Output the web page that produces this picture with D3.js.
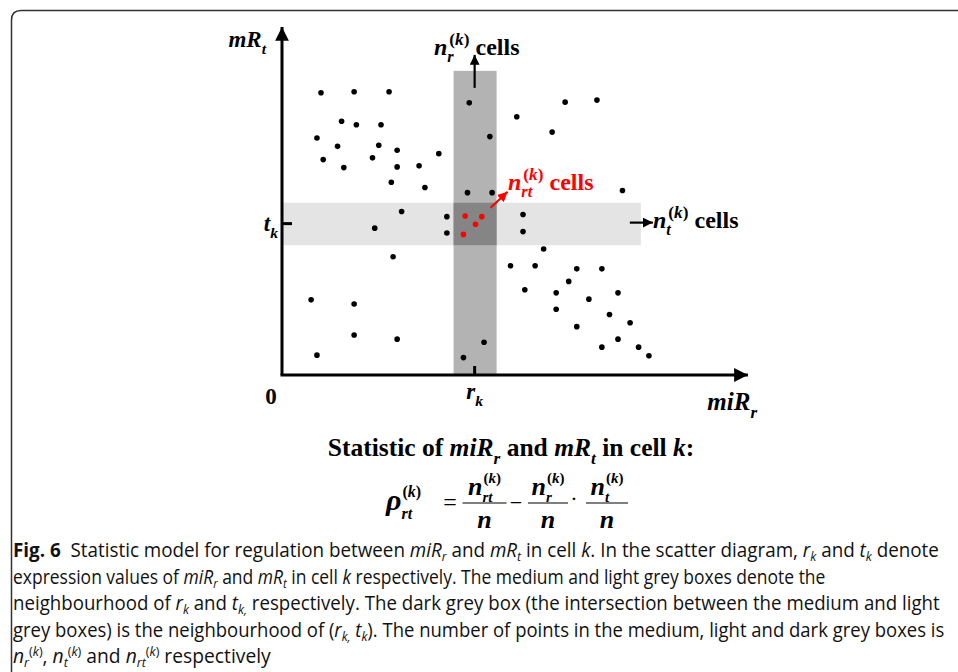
<!DOCTYPE html>
<html>
<head>
<meta charset="utf-8">
<script src="https://cdn.jsdelivr.net/npm/d3@7"></script>
<style>
  body { margin: 0; background: #fff; }
  svg { display: block; }
  text { white-space: pre; }
</style>
</head>
<body>
<div id="chart"></div>
<script>
// scatter values (expression units, 0..10 on both axes)
const miR = [0.87, 1.61, 2.39, 4.18, 5.24, 6.32, 7.03, 1.33, 1.66, 2.21, 6.03, 4.64, 0.78, 1.24, 2.16,
  2.57, 3.50, 0.92, 2.02, 1.38, 2.57, 3.06, 2.44, 3.19, 4.14, 4.69, 7.60, 2.67, 3.68, 5.38, 2.07, 3.68,
  5.38, 5.84, 2.48, 5.10, 5.65, 6.58, 7.14, 6.40, 5.42, 6.12, 7.50, 6.85, 0.65, 1.61, 6.12, 7.31, 7.77,
  6.58, 1.61, 2.57, 4.51, 7.50, 7.14, 7.96, 8.19, 0.78, 4.05];
const mR = [8.11, 8.14, 8.14, 7.82, 7.42, 7.84, 7.90, 7.29, 7.19, 7.19, 6.98, 6.85, 6.81, 6.57, 6.60,
  6.46, 6.36, 6.19, 6.24, 5.96, 5.98, 6.01, 5.54, 5.39, 5.24, 5.24, 5.30, 4.70, 4.55, 4.61, 4.22, 4.08,
  4.12, 3.62, 3.40, 3.14, 3.14, 3.05, 3.05, 2.69, 2.45, 2.36, 2.36, 2.18, 2.16, 2.04, 1.89, 1.74, 1.50,
  1.39, 1.15, 1.03, 0.94, 1.03, 0.80, 0.80, 0.55, 0.57, 0.50];
// points in the neighbourhood of (r_k, t_k)
const miRCell = [4.09, 4.46, 4.32, 4.05];
const mRCell = [4.57, 4.55, 4.33, 4.04];

const rk = 4.30, tk = 4.35;        // cell k
const rBand = [3.83, 4.79];        // neighbourhood of r_k
const tBand = [3.73, 4.95];        // neighbourhood of t_k
const rBoxTop = 8.74, tBoxRight = 8.01;
const axisMax = { x: 10.4, y: 10 };

const serif = "'Liberation Serif', 'Times New Roman', serif";
const sans = "'Open Sans', 'Noto Sans', sans-serif";

const caption = [
  [["Fig. 6", "b"], ["  Statistic model for regulation between ", ""], ["miR", "i"], ["r", "si"], [" and ", ""],
   ["mR", "i"], ["t", "si"], [" in cell ", ""], ["k", "i"], [". In the scatter diagram, ", ""], ["r", "i"], ["k", "si"],
   [" and ", ""], ["t", "i"], ["k", "si"], [" denote", ""]],
  [["expression values of ", ""], ["miR", "i"], ["r", "si"], [" and ", ""], ["mR", "i"], ["t", "si"], [" in cell ", ""],
   ["k", "i"], [" respectively. The medium and light grey boxes denote the", ""]],
  [["neighbourhood of ", ""], ["r", "i"], ["k", "si"], [" and ", ""], ["t", "i"], ["k,", "si"],
   [" respectively. The dark grey box (the intersection between the medium and light", ""]],
  [["grey boxes) is the neighbourhood of (", ""], ["r", "i"], ["k,", "si"], [" ", ""], ["t", "i"], ["k", "si"],
   ["). The number of points in the medium, light and dark grey boxes is", ""]],
  [["n", "i"], ["r", "si"], ["(", "pu"], ["k", "pi"], [")", "pu"], [", ", ""], ["n", "i"], ["t", "si"], ["(", "pu"], ["k", "pi"],
   [")", "pu"], [" and ", ""], ["n", "i"], ["rt", "si"], ["(", "pu"], ["k", "pi"], [")", "pu"], [" respectively", ""]]
];
const captionEnds = [940, 826, 940, 945, 272];

const W = 958, H = 672;
const svg = d3.select("#chart").append("svg").attr("width", W).attr("height", H);

// figure frame
svg.append("path")
  .attr("d", "M11.5," + H + " V20 Q11.5,10.5 21,10.5 H" + W)
  .attr("fill", "none").attr("stroke", "#333").attr("stroke-width", 1.5);

const x = d3.scaleLinear().domain([0, 10]).range([282, 730]);
const y = d3.scaleLinear().domain([0, 10]).range([375, 27]);

const defs = svg.append("defs");
function marker(id, w, h, fill) {
  defs.append("marker").attr("id", id).attr("viewBox", "0 0 10 10")
    .attr("refX", 10).attr("refY", 5).attr("markerWidth", w).attr("markerHeight", h)
    .attr("markerUnits", "strokeWidth").attr("orient", "auto")
    .append("path").attr("d", "M0,0 L10,5 L0,10 Z").attr("fill", fill);
}
marker("head", 5, 4.6, "#000");
marker("small", 4.5, 4.5, "#000");
marker("smallred", 4.5, 4.5, "#f00");

// neighbourhood boxes
svg.append("rect").attr("x", x(0)).attr("y", y(tBand[1]))
  .attr("width", x(tBoxRight) - x(0)).attr("height", y(tBand[0]) - y(tBand[1])).attr("fill", "#e4e4e4");
svg.append("rect").attr("x", x(rBand[0])).attr("y", y(rBoxTop))
  .attr("width", x(rBand[1]) - x(rBand[0])).attr("height", y(0) - y(rBoxTop)).attr("fill", "#b3b3b3");
svg.append("rect").attr("x", x(rBand[0])).attr("y", y(tBand[1]))
  .attr("width", x(rBand[1]) - x(rBand[0])).attr("height", y(tBand[0]) - y(tBand[1])).attr("fill", "#858585");

// axes
svg.append("line").attr("x1", x(0)).attr("y1", y(0)).attr("x2", x(0)).attr("y2", y(axisMax.y))
  .attr("stroke", "#000").attr("stroke-width", 3).attr("marker-end", "url(#head)");
svg.append("line").attr("x1", x(0) - 1.5).attr("y1", y(0)).attr("x2", x(axisMax.x)).attr("y2", y(0))
  .attr("stroke", "#000").attr("stroke-width", 3).attr("marker-end", "url(#head)");
svg.append("line").attr("x1", x(0)).attr("x2", x(0) + 10).attr("y1", y(tk)).attr("y2", y(tk))
  .attr("stroke", "#000").attr("stroke-width", 3);
svg.append("line").attr("x1", x(rk)).attr("x2", x(rk)).attr("y1", y(0)).attr("y2", y(0) - 9)
  .attr("stroke", "#000").attr("stroke-width", 3);

// points
svg.append("g").selectAll("circle").data(miR.map((v, i) => [v, mR[i]])).join("circle")
  .attr("cx", d => x(d[0])).attr("cy", d => y(d[1])).attr("r", 2.8).attr("fill", "#000");
svg.append("g").selectAll("circle").data(miRCell.map((v, i) => [v, mRCell[i]])).join("circle")
  .attr("cx", d => x(d[0])).attr("cy", d => y(d[1])).attr("r", 2.8).attr("fill", "#f00");

// annotation arrows
svg.append("line").attr("x1", x(rk)).attr("x2", x(rk)).attr("y1", y(rBoxTop) + 17).attr("y2", y(rBoxTop) - 16)
  .attr("stroke", "#000").attr("stroke-width", 2.2).attr("marker-end", "url(#small)");
svg.append("line").attr("x1", x(tBoxRight) - 11).attr("x2", x(tBoxRight) + 12).attr("y1", y(tk) - 1).attr("y2", y(tk) - 1)
  .attr("stroke", "#000").attr("stroke-width", 2.2).attr("marker-end", "url(#small)");
svg.append("line").attr("x1", x(rBand[1]) - 6).attr("y1", y(tBand[1]) + 5)
  .attr("x2", x(rBand[1]) + 11).attr("y2", y(tBand[1]) - 11)
  .attr("stroke", "#f00").attr("stroke-width", 2.2).attr("marker-end", "url(#smallred)");

// text helpers
function put(g, px, py, str, o) {
  const t = g.append("text").attr("x", px).attr("y", py)
    .attr("font-family", o.ff || serif).attr("font-size", o.fs)
    .attr("font-weight", o.b === false ? "normal" : "bold")
    .attr("font-style", o.i ? "italic" : "normal")
    .attr("fill", o.c || "#000");
  if (Array.isArray(str)) {
    str.forEach(s => t.append("tspan").attr("font-style", s[1] ? "italic" : "normal").text(s[0]));
  } else t.text(str);
  return t;
}
const tw = s => s.node().getComputedTextLength();
const K = [["(", 0], ["k", 1], [")", 0]];

// pieces: {t, i, sub, sup}; sub/sup are stacked after the base
function label(px, py, pieces, fs, anchor, c) {
  const g = svg.append("g");
  let cx = 0;
  pieces.forEach(p => {
    const base = put(g, cx, 0, p.t, { fs: fs, i: p.i, c: c });
    cx += tw(base);
    let sw = 0;
    if (p.sub) sw = tw(put(g, cx, fs * 0.3, p.sub, { fs: fs * 0.68, i: true, c: c }));
    if (p.sup) sw = Math.max(sw, tw(put(g, cx + 2, -fs * 0.42, p.sup, { fs: fs * 0.72, c: c })) + 2);
    cx += sw;
  });
  const off = anchor === "middle" ? -cx / 2 : anchor === "end" ? -cx : 0;
  g.attr("transform", "translate(" + (px + off) + "," + py + ")");
  return cx;
}

label(266, 47, [{ t: "mR", i: true, sub: "t" }], 23, "end");
label(434, 55, [{ t: "n", i: true, sub: "r", sup: K }, { t: " cells" }], 24, "start");
label(508, 190, [{ t: "n", i: true, sub: "rt", sup: K }, { t: " cells" }], 24, "start", "#f00");
label(653, 228, [{ t: "n", i: true, sub: "t", sup: K }, { t: " cells" }], 24, "start");
label(278, 231, [{ t: "t", i: true, sub: "k" }], 23, "end");
label(271, 404, [{ t: "0" }], 23, "middle");
label(x(rk), 399, [{ t: "r", i: true, sub: "k" }], 23, "middle");
label(757, 410, [{ t: "miR", i: true, sub: "r" }], 25, "end");

label(511, 456, [{ t: "Statistic of " }, { t: "miR", i: true, sub: "r" }, { t: " and " },
  { t: "mR", i: true, sub: "t" }, { t: " in cell " }, { t: "k", i: true }, { t: ":" }], 25.5, "middle");

// formula
const barY = 503;
const rho = svg.append("g");
const rhoW = tw(put(rho, 0, 0, "\u03c1", { fs: 30, i: true }));
put(rho, rhoW, 9, "rt", { fs: 16, i: true });
put(rho, rhoW + 1, -13, K, { fs: 16 });
rho.attr("transform", "translate(386," + (barY + 7) + ")");
put(svg, 450, barY + 7, "=", { fs: 24, b: false }).attr("text-anchor", "middle");
put(svg, 516, barY + 7, "\u2212", { fs: 22, b: false }).attr("text-anchor", "middle");
put(svg, 574, barY + 3, "\u00b7", { fs: 22, b: false }).attr("text-anchor", "middle");

function frac(cx, halfW, sub) {
  svg.append("line").attr("x1", cx - halfW).attr("x2", cx + halfW).attr("y1", barY).attr("y2", barY)
    .attr("stroke", "#000").attr("stroke-width", 1.2);
  const g = svg.append("g");
  const nw = tw(put(g, 0, 0, "n", { fs: 26, i: true }));
  const sw = tw(put(g, nw, 7, sub, { fs: 15, i: true }));
  const kw = tw(put(g, nw + 1, -12, K, { fs: 15 }));
  const total = nw + Math.max(sw, kw + 1);
  g.attr("transform", "translate(" + (cx - total / 2) + "," + (barY - 8) + ")");
  put(svg, cx, barY + 25, "n", { fs: 26, i: true }).attr("text-anchor", "middle");
}
frac(484.5, 22, "rt");
frac(548, 20, "r");
frac(607, 21, "t");

// caption
const styles = {
  "": { fs: 20 }, b: { fs: 20, b: true }, i: { fs: 20, i: true },
  si: { fs: 13, i: true, dy: 4 }, pu: { fs: 13, dy: -7 }, pi: { fs: 13, i: true, dy: -7 }
};
caption.forEach((line, li) => {
  const by = 557 + li * 26.5;
  const t = svg.append("text").attr("font-family", sans).attr("fill", "#111");
  let cur = 0;
  line.forEach(r => {
    const s = styles[r[1]];
    const shift = s.dy || 0;
    t.append("tspan").attr("dy", shift - cur).attr("font-size", s.fs)
      .attr("font-weight", s.b ? "bold" : "normal")
      .attr("font-style", s.i ? "italic" : "normal")
      .text(r[0]);
    cur = shift;
  });
  const wdt = t.node().getBBox().width;
  t.attr("transform", "translate(13," + by + ") scale(" + ((captionEnds[li] - 13) / wdt) + ",1)");
});
</script>
</body>
</html>
